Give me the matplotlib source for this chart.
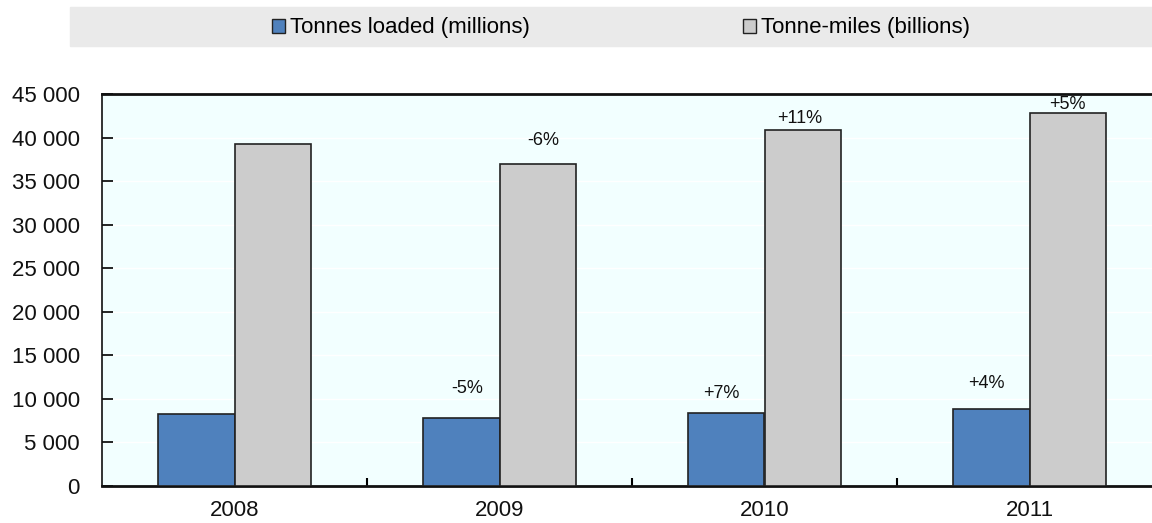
import matplotlib.pyplot as plt
import matplotlib.patches as mpatches
import numpy as np

plt.rcParams['font.family'] = ['Liberation Sans', 'DejaVu Sans']

# Data
years = ['2008', '2009', '2010', '2011']
tonnesLoaded = [8270, 7810, 8380, 8840]        # millions
tonneMiles = [39260, 36960, 40870, 42820]      # billions
tonnesChange = ['', '-5%', '+7%', '+4%']
milesChange = ['', '-6%', '+11%', '+5%']
yTicks = [0, 5000, 10000, 15000, 20000, 25000, 30000, 35000, 40000, 45000]

blue = '#4F81BD'
grey = '#CCCCCC'

fig = plt.figure(figsize=(11.52, 5.23), dpi=100)
ax = fig.add_axes([102 / 1152, 37 / 523, 1060 / 1152, 392 / 523])
ax.set_facecolor('#F2FFFF')

x = np.arange(len(years))
w = 0.287
ax.bar(x - w / 2, tonnesLoaded, w, color=blue, edgecolor='#222222', linewidth=1.2, zorder=3)
ax.bar(x + w / 2, tonneMiles, w, color=grey, edgecolor='#222222', linewidth=1.2, zorder=3)

# percentage change labels (offsets in points from bar top, tweaked per label)
tOff = [(0, 0), (4, 21), (-4, 14), (-4, 18)]
mOff = [(0, 0), (4, 17), (-2, 8), (0, 6)]
for i in range(len(years)):
    if tonnesChange[i]:
        ax.annotate(tonnesChange[i], (x[i] - w / 2, tonnesLoaded[i]), xytext=tOff[i],
                    textcoords='offset points', ha='center', va='center', fontsize=13, color='#111111')
    if milesChange[i]:
        ax.annotate(milesChange[i], (x[i] + w / 2, tonneMiles[i]), xytext=mOff[i],
                    textcoords='offset points', ha='center', va='center', fontsize=13, color='#111111')

ax.set_xlim(-0.5, 3.5)
ax.set_ylim(0, 45000)
ax.set_yticks(yTicks)
ax.set_yticklabels(['{:,}'.format(v).replace(',', ' ') for v in yTicks], fontsize=16, color='#111111')
ax.set_xticks(x)
ax.set_xticklabels(years, fontsize=16, color='#111111')
ax.tick_params(axis='x', length=0, pad=10)
ax.tick_params(axis='y', direction='in', length=8, width=1.2, pad=16)
ax.set_xticks(np.arange(0.5, 3.5, 1), minor=True)
ax.tick_params(axis='x', which='minor', direction='in', length=6, width=1.5)
ax.yaxis.grid(True, color='white', linewidth=1, zorder=0)

for s in ['top', 'bottom', 'left']:
    ax.spines[s].set_linewidth(2)
    ax.spines[s].set_color('#111111')
ax.spines['left'].set_linewidth(1.2)
ax.spines['right'].set_visible(False)

# legend band on top
fig.patches.append(mpatches.Rectangle((70 / 1152, 1 - 46 / 523), 1, 39 / 523,
                                      transform=fig.transFigure, color='#EAEAEA', zorder=0))
handles = [mpatches.Patch(facecolor=blue, edgecolor='#222222', label='Tonnes loaded (millions)'),
           mpatches.Patch(facecolor=grey, edgecolor='#222222', label='Tonne-miles (billions)')]
fig.legend(handles=handles, loc='center', bbox_to_anchor=(621 / 1152, 1 - 28 / 523), ncol=2,
           frameon=False, fontsize=16, handlelength=0.6, handleheight=0.6, handletextpad=0.2,
           columnspacing=9.6)

fig.savefig('out.png', dpi=100)
